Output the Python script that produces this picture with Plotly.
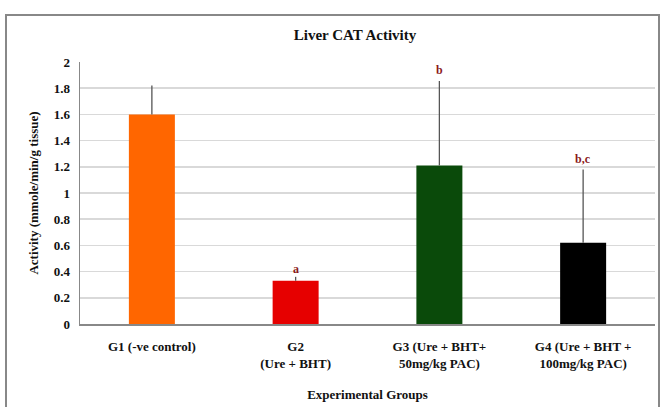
import plotly.graph_objects as go

groups = ["G1 (-ve control)", "G2<br>(Ure + BHT)", "G3 (Ure + BHT+<br>50mg/kg PAC)", "G4 (Ure + BHT +<br>100mg/kg PAC)"]
means = [1.60, 0.33, 1.21, 0.62]
errors = [0.22, 0.03, 0.645, 0.56]
sig_labels = ["", "a", "b", "b,c"]
sig_pos = [0, 0.42, 1.94, 1.26]
colors = ["#FF6600", "#E60000", "#0A4A0A", "#000000"]
ytick_vals = [0, 0.2, 0.4, 0.6, 0.8, 1.0, 1.2, 1.4, 1.6, 1.8, 2.0]
ytick_text = ["0", "0.2", "0.4", "0.6", "0.8", "1", "1.2", "1.4", "1.6", "1.8", "2"]

W, H = 662, 407
L, R, T, B = 80, 7, 62, 83
pw, ph = W - L - R, H - T - B

font = "Liberation Serif, Times New Roman, serif"

fig = go.Figure()
fig.add_trace(go.Bar(
    x=groups, y=means,
    marker=dict(color=colors, line=dict(width=0)),
    error_y=dict(type="data", array=errors, arrayminus=[0]*4, symmetric=False,
                 color="#555555", thickness=1.3, width=0),
    width=0.32,
    hoverinfo="skip",
))

for g, lab, p in zip(groups, sig_labels, sig_pos):
    if lab:
        fig.add_annotation(x=g, y=p, text="<b>%s</b>" % lab, showarrow=False,
                           font=dict(family=font, size=12, color="#8B1A1A"))

def px2x(px):
    return (px - L) / pw

def px2y(py):
    return (H - B - py) / ph

fig.add_shape(type="rect", xref="paper", yref="paper",
              x0=px2x(6), x1=px2x(659), y0=px2y(409), y1=px2y(15),
              line=dict(color="#888888", width=2), layer="below")

fig.update_layout(
    width=W, height=H,
    margin=dict(l=L, r=R, t=T, b=B),
    paper_bgcolor="white", plot_bgcolor="white",
    showlegend=False,
    title=dict(text="<b>Liver CAT Activity</b>", x=355 / W, xanchor="center",
               y=1 - 35 / H, yanchor="middle",
               font=dict(family=font, size=15, color="#111111")),
    font=dict(family=font, size=12, color="#111111"),
)
fig.update_xaxes(
    showline=True, linecolor="#888888", linewidth=1.5,
    tickfont=dict(family=font, size=13, color="#111111"),
    ticks="", tickprefix="<b>", ticksuffix="</b>", ticklabelstandoff=10,
    title=dict(text="<b>Experimental Groups</b>", font=dict(family=font, size=13, color="#111111"), standoff=20),
)
fig.update_yaxes(
    range=[0, 2.0], tickvals=ytick_vals, ticktext=["<b>%s</b>" % t for t in ytick_text],
    showline=True, linecolor="#888888", linewidth=1.5,
    showgrid=True, gridcolor="#d9d9d9", gridwidth=1.5,
    zeroline=False, ticks="", ticklabelstandoff=6,
    tickfont=dict(family=font, size=13, color="#111111"),
    title=dict(text="<b>Activity (mmole/min/g tissue)</b>", font=dict(family=font, size=13, color="#111111"), standoff=12),
)

fig.write_html("out.html", config={"displayModeBar": False, "staticPlot": True})
with open("out.html", "r", encoding="utf-8") as f:
    html = f.read()
html = html.replace("<head>", "<head><style>html,body{margin:0;padding:0;overflow:hidden}</style>", 1)
with open("out.html", "w", encoding="utf-8") as f:
    f.write(html)
